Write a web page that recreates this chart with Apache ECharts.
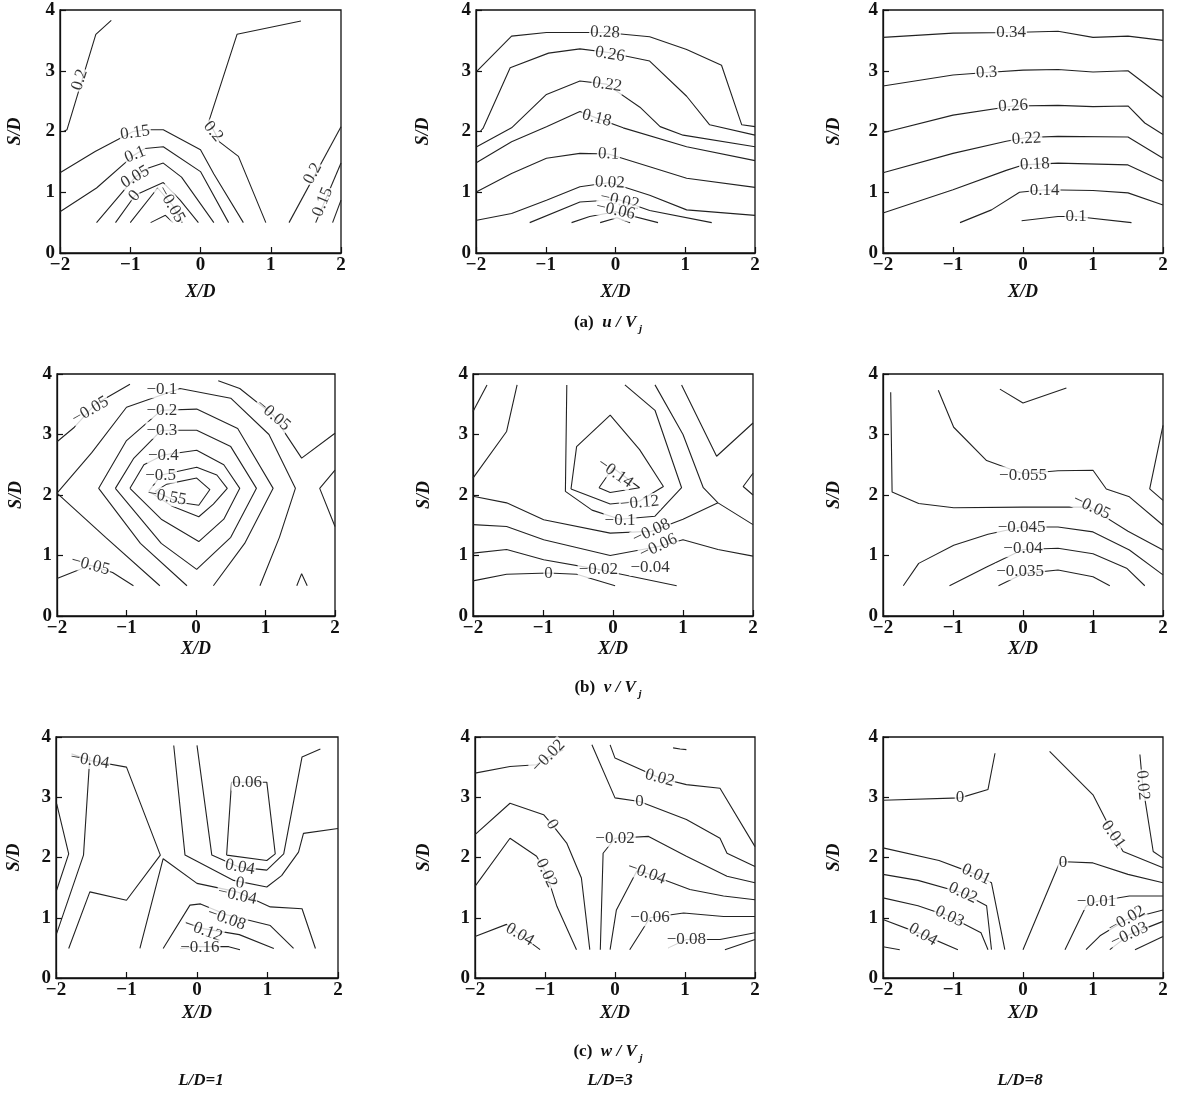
<!DOCTYPE html>
<html>
<head>
<meta charset="utf-8">
<script src="https://cdn.jsdelivr.net/npm/echarts@6/dist/echarts.min.js"></script>
<style>
html, body { margin: 0; padding: 0; background: #fff; }
#app { width: 1180px; height: 1097px; }
</style>
</head>
<body>
<div id="app"></div>
<script>
// contour lines, in X/D and S/D units; labels are [text, x, y, rotate]
var u1Lines = [
    [[-1.95, 2.0], [-1.9, 2.03], [-1.49, 3.6], [-1.27, 3.83]],
    [[1.43, 3.82], [0.52, 3.6], [0.12, 2.17], [0.27, 1.83], [0.54, 1.59], [0.93, 0.5]],
    [[1.26, 0.5], [2.0, 2.08]],
    [[1.64, 0.5], [2.0, 1.48]],
    [[1.88, 0.5], [2.0, 0.87]],
    [[-2, 1.32], [-1.5, 1.67], [-0.96, 2.0], [-0.74, 2.03], [-0.53, 2.03], [0.0, 1.70], [0.19, 1.3], [0.61, 0.5]],
    [[-2, 0.68], [-1.48, 1.07], [-0.96, 1.6], [-0.79, 1.72], [-0.53, 1.75], [0.0, 1.34], [0.4, 0.5]],
    [[-1.48, 0.5], [-0.93, 1.25], [-0.74, 1.4], [-0.53, 1.48], [-0.27, 1.25], [0.19, 0.5]],
    [[-1.21, 0.5], [-0.93, 0.95], [-0.76, 1.04], [-0.53, 1.16], [-0.29, 0.87], [-0.03, 0.5]],
    [[-1.0, 0.5], [-0.61, 1.07], [-0.4, 0.79], [-0.26, 0.5]],
    [[-0.71, 0.5], [-0.5, 0.62], [-0.39, 0.5]]
];
var u1Labels = [
    ['0.2', -1.72, 2.85, 72], ['0.2', 0.18, 2.0, -50], ['0.2', 1.6, 1.31, 62],
    ['0.15', 1.74, 0.84, 68], ['0.15', -0.93, 1.98, 8], ['0.1', -0.93, 1.62, 22],
    ['0.05', -0.93, 1.25, 30], ['0', -0.94, 0.94, 50], ['\u22120.05', -0.42, 0.8, -60]
];

var u3Lines = [
    [[-1.99, 2.99], [-1.49, 3.57], [-0.99, 3.63], [-0.15, 3.63], [0.49, 3.56], [1.02, 3.35], [1.52, 3.09], [1.81, 2.11], [2.0, 2.08]],
    [[-1.94, 2.0], [-1.9, 2.05], [-1.51, 3.05], [-0.96, 3.29], [-0.51, 3.36], [-0.1, 3.3], [0.49, 3.16], [1.02, 2.58], [1.35, 2.11], [2.0, 1.94]],
    [[-1.99, 1.75], [-1.49, 2.06], [-0.99, 2.61], [-0.51, 2.83], [-0.13, 2.78], [0.35, 2.4], [0.64, 2.08], [0.97, 1.94], [2.0, 1.75]],
    [[-1.99, 1.49], [-1.49, 1.83], [-0.99, 2.08], [-0.51, 2.33], [-0.27, 2.22], [0.11, 2.06], [1.02, 1.75], [2.0, 1.52]],
    [[-1.99, 1.01], [-1.49, 1.31], [-0.99, 1.56], [-0.51, 1.64], [-0.1, 1.63], [0.49, 1.42], [1.02, 1.23], [2.0, 1.08]],
    [[-1.99, 0.54], [-1.49, 0.65], [-0.99, 0.87], [-0.51, 1.09], [-0.08, 1.16], [0.49, 0.95], [1.02, 0.71], [2.0, 0.62]],
    [[-1.23, 0.5], [-0.51, 0.84], [0.04, 0.88], [0.49, 0.7], [1.38, 0.5]],
    [[-0.63, 0.5], [-0.37, 0.6], [0.0, 0.68], [0.61, 0.5]],
    [[-0.22, 0.5], [0.02, 0.58], [0.21, 0.5]]
];
var u3Labels = [
    ['0.28', -0.15, 3.63, -2], ['0.26', -0.08, 3.27, -10], ['0.22', -0.12, 2.77, -8],
    ['0.18', -0.27, 2.22, -14], ['0.1', -0.1, 1.63, -3], ['0.02', -0.08, 1.16, -3],
    ['\u22120.02', 0.06, 0.86, -12], ['\u22120.06', 0.0, 0.7, -12]
];

var u8Lines = [
    [[-2, 3.55], [-1.0, 3.62], [-0.17, 3.63], [0.5, 3.65], [1.0, 3.55], [1.5, 3.57], [2.0, 3.5]],
    [[-2, 2.75], [-1.0, 2.93], [-0.52, 2.97], [0.0, 3.01], [0.5, 3.02], [1.0, 2.98], [1.5, 3.0], [2.0, 2.56]],
    [[-2, 1.98], [-1.0, 2.27], [-0.14, 2.42], [0.5, 2.43], [1.0, 2.41], [1.5, 2.42], [1.74, 2.14], [2.0, 1.95]],
    [[-2, 1.32], [-1.0, 1.64], [-0.24, 1.84], [0.05, 1.9], [0.5, 1.92], [1.5, 1.91], [2.0, 1.56]],
    [[-2, 0.66], [-1.0, 1.04], [-0.24, 1.36], [0.0, 1.45], [0.5, 1.48], [1.5, 1.45], [2.0, 1.18]],
    [[-0.9, 0.5], [-0.45, 0.71], [-0.05, 1.0], [0.31, 1.04], [1.0, 1.03], [1.5, 0.99], [2.0, 0.79]],
    [[-0.02, 0.53], [0.0, 0.55], [0.5, 0.6], [0.76, 0.6], [1.55, 0.5]]
];
var u8Labels = [
    ['0.34', -0.17, 3.63, 0], ['0.3', -0.52, 2.97, 3], ['0.26', -0.14, 2.42, 3],
    ['0.22', 0.05, 1.88, 3], ['0.18', 0.17, 1.46, 3], ['0.14', 0.31, 1.03, 0], ['0.1', 0.76, 0.6, 0]
];

var v1Lines = [
    [[-2, 2.88], [-1.75, 3.12], [-1.45, 3.5], [-0.95, 3.83]],
    [[0.32, 3.89], [0.63, 3.76], [1.11, 3.32], [1.52, 2.61], [2.0, 3.02]],
    [[-2, 0.62], [-1.52, 0.84], [-1.2, 0.72], [-0.9, 0.5]],
    [[-0.52, 0.5], [-1.3, 1.3], [-2, 2.03], [-1.5, 2.7], [-1.0, 3.45], [-0.23, 3.76], [0.5, 3.6], [1.05, 3.0], [1.43, 2.11], [1.2, 1.3], [0.92, 0.5]],
    [[-0.13, 0.5], [-0.8, 1.2], [-1.4, 2.11], [-1.0, 2.9], [-0.5, 3.4], [0.01, 3.42], [0.6, 3.1], [1.11, 2.11], [0.7, 1.2], [0.25, 0.5]],
    [[-1.16, 2.11], [-0.9, 2.6], [-0.5, 3.07], [0.01, 3.07], [0.5, 2.8], [0.87, 2.11], [0.5, 1.3], [0.01, 0.77], [-0.5, 1.2], [-1.16, 2.11]],
    [[-0.95, 2.11], [-0.75, 2.5], [-0.47, 2.66], [0.01, 2.74], [0.4, 2.5], [0.63, 2.11], [0.4, 1.6], [0.04, 1.23], [-0.5, 1.6], [-0.95, 2.11]],
    [[-0.68, 2.06], [-0.5, 2.33], [0.01, 2.46], [0.3, 2.33], [0.45, 2.11], [0.25, 1.85], [0.04, 1.64], [-0.35, 1.82], [-0.68, 2.06]],
    [[-0.59, 2.06], [-0.42, 2.18], [0.01, 2.28], [0.2, 2.09], [0.04, 1.83], [-0.25, 1.88], [-0.59, 2.06]],
    [[2, 2.41], [1.78, 2.11], [2, 1.48]],
    [[1.45, 0.5], [1.52, 0.7], [1.6, 0.5]]
];
var v1Labels = [
    ['\u22120.05', -1.52, 3.4, 30], ['\u22120.05', 1.11, 3.32, -40], ['\u22120.05', -1.52, 0.84, -15],
    ['\u22120.1', -0.49, 3.74, 0], ['\u22120.2', -0.49, 3.4, 0], ['\u22120.3', -0.49, 3.07, 0],
    ['\u22120.4', -0.47, 2.66, 0], ['\u22120.5', -0.51, 2.33, 0], ['\u22120.55', -0.42, 1.97, -10]
];

var v3Lines = [
    [[-2, 3.38], [-1.8, 3.82]],
    [[-2, 2.28], [-1.52, 3.05], [-1.37, 3.82]],
    [[-0.2, 2.12], [-0.04, 2.04], [0.38, 2.12], [0.0, 2.45], [-0.2, 2.12]],
    [[-0.6, 2.1], [-0.52, 2.8], [-0.04, 3.32], [0.38, 2.75], [0.72, 2.14], [0.38, 1.9], [-0.04, 1.85], [-0.6, 2.1]],
    [[-0.66, 3.82], [-0.68, 2.06], [-0.3, 1.75], [0.1, 1.6], [0.6, 1.65], [0.98, 2.12], [0.6, 3.4], [0.17, 3.82]],
    [[0.6, 3.82], [1.0, 3.0], [1.29, 2.12], [1.5, 1.87], [2.0, 1.51]],
    [[-2, 1.98], [-1.52, 1.87], [-0.99, 1.59], [-0.04, 1.37], [0.55, 1.4], [1.0, 1.6], [1.5, 1.87]],
    [[-2, 1.51], [-1.52, 1.48], [-0.99, 1.26], [-0.04, 1.0], [0.65, 1.15], [1.0, 1.26], [1.5, 1.1], [2.0, 0.99]],
    [[-2, 1.04], [-1.52, 1.1], [-0.99, 0.93], [-0.21, 0.77], [0.91, 0.5]],
    [[-2, 0.58], [-1.52, 0.69], [-0.92, 0.71], [-0.52, 0.69], [0.03, 0.5]],
    [[2, 3.19], [1.48, 2.64], [0.98, 3.82]],
    [[2, 2.36], [1.86, 2.14], [2, 2.0]]
];
var v3Labels = [
    ['\u22120.14', 0.03, 2.36, -35], ['\u22120.12', 0.38, 1.87, 5], ['\u22120.1', 0.1, 1.57, 0],
    ['\u22120.08', 0.55, 1.4, 25], ['\u22120.06', 0.65, 1.15, 25], ['\u22120.04', 0.53, 0.8, 0],
    ['\u22120.02', -0.21, 0.77, 0], ['0', -0.92, 0.71, 0]
];

var v8Lines = [
    [[-1.21, 3.73], [-0.99, 3.12], [-0.52, 2.57], [0.0, 2.35], [0.5, 2.4], [1.0, 2.41], [1.19, 2.1], [1.52, 1.97], [2.0, 1.5]],
    [[-1.89, 3.7], [-1.87, 2.05], [-1.49, 1.86], [-0.99, 1.79], [0.0, 1.8], [0.6, 1.8], [0.95, 1.8], [1.5, 1.4], [2.0, 1.09]],
    [[-1.71, 0.5], [-1.49, 0.87], [-0.99, 1.17], [-0.5, 1.35], [-0.02, 1.47], [0.5, 1.47], [1.0, 1.39], [1.52, 1.09], [2.0, 0.68]],
    [[-1.05, 0.5], [-0.52, 0.81], [0.0, 1.1], [0.5, 1.12], [1.0, 1.03], [1.48, 0.79], [1.74, 0.5]],
    [[-0.35, 0.5], [0.0, 0.7], [0.5, 0.76], [1.0, 0.65], [1.24, 0.5]],
    [[-0.33, 3.75], [0, 3.52], [0.62, 3.77]],
    [[2, 3.15], [1.81, 2.1], [2, 1.91]]
];
var v8Labels = [
    ['\u22120.055', 0.0, 2.33, 0], ['\u22120.05', 0.98, 1.8, -25], ['\u22120.045', -0.02, 1.47, 0],
    ['\u22120.04', 0.0, 1.11, 0], ['\u22120.035', -0.04, 0.73, 0]
];

var w1Lines = [
    [[-1.78, 3.72], [-1.52, 3.61], [-1.0, 3.5], [-0.52, 2.04], [-1.0, 1.29], [-1.52, 1.43], [-1.82, 0.49]],
    [[-1.99, 2.89], [-1.82, 2.06], [-1.99, 1.46]],
    [[-1.99, 0.74], [-1.61, 2.04], [-1.52, 3.67]],
    [[-0.81, 0.49], [-0.48, 1.98], [0.0, 1.57], [0.57, 1.43], [1.04, 1.18], [1.49, 1.15], [1.68, 0.49]],
    [[-0.33, 3.86], [-0.17, 2.04], [0.52, 1.62], [0.99, 1.51], [1.2, 1.7], [1.44, 2.09], [1.51, 2.4], [2, 2.48]],
    [[0.0, 3.86], [0.21, 2.04], [0.6, 1.84], [0.99, 1.79], [1.23, 2.06], [1.49, 3.67], [1.75, 3.8]],
    [[0.42, 2.04], [0.49, 3.25], [0.99, 3.25], [1.11, 2.06], [0.99, 1.95], [0.42, 2.04]],
    [[-0.48, 0.49], [-0.1, 1.21], [0.05, 1.23], [0.42, 1.05], [1.04, 0.87], [1.37, 0.49]],
    [[-0.17, 0.93], [0.09, 0.82], [0.6, 0.72], [1.09, 0.49]],
    [[-0.24, 0.49], [0.04, 0.52], [0.45, 0.52], [0.61, 0.47]]
];
var w1Labels = [
    ['\u22120.04', -1.52, 3.61, -10], ['0.06', 0.71, 3.25, 0], ['0.04', 0.61, 1.84, -10],
    ['0', 0.61, 1.57, -10], ['\u22120.04', 0.57, 1.37, -12], ['\u22120.08', 0.42, 0.98, -20],
    ['\u22120.12', 0.09, 0.79, -20], ['\u22120.16', 0.04, 0.5, 0]
];

var w3Lines = [
    [[-2, 3.4], [-1.5, 3.51], [-1.12, 3.54], [-0.98, 3.65], [-0.74, 3.79]],
    [[-2, 2.38], [-1.5, 2.9], [-1.02, 2.71], [-0.9, 2.55], [-0.69, 2.24], [-0.48, 1.66], [-0.36, 0.47]],
    [[-2, 1.52], [-1.5, 2.32], [-1.12, 2.02], [-0.98, 1.74], [-0.83, 1.19], [-0.55, 0.47]],
    [[-2, 0.69], [-1.55, 0.89], [-1.36, 0.72], [-1.07, 0.47]],
    [[-0.33, 3.87], [0, 2.99], [0.35, 2.93], [1.02, 2.63], [1.5, 2.32], [1.6, 2.07], [2, 1.85]],
    [[-0.07, 3.87], [0, 3.65], [0.64, 3.32], [1.02, 3.21], [1.5, 3.15], [2, 2.18]],
    [[-0.21, 0.47], [-0.17, 2.07], [0, 2.32], [0.48, 2.35], [1.02, 2.02], [1.6, 1.69], [2, 1.58]],
    [[-0.07, 0.47], [0.02, 1.13], [0.31, 1.77], [0.45, 1.74], [1.07, 1.47], [1.55, 1.36], [2, 1.3]],
    [[0.21, 0.47], [0.45, 0.91], [0.5, 1.0], [0.98, 1.08], [1.55, 1.02], [2, 1.02]],
    [[0.76, 0.5], [1.02, 0.64], [1.5, 0.64], [2, 0.75]],
    [[1.57, 0.47], [2, 0.64]],
    [[0.83, 3.82], [0.93, 3.8], [1.02, 3.79]]
];
var w3Labels = [
    ['\u22120.02', -0.95, 3.68, 45], ['0', -0.9, 2.55, -60], ['0.02', -0.98, 1.74, -65],
    ['0.04', -1.36, 0.72, -30], ['0', 0.35, 2.93, 0], ['0.02', 0.64, 3.32, -15],
    ['\u22120.02', 0.0, 2.32, 0], ['\u22120.04', 0.45, 1.74, -20], ['\u22120.06', 0.5, 1.0, 0],
    ['\u22120.08', 1.02, 0.64, 0]
];

var w8Lines = [
    [[-2, 2.95], [-0.9, 2.99], [-0.5, 3.13], [-0.4, 3.73]],
    [[-2, 2.16], [-1.2, 1.95], [-0.67, 1.72], [-0.45, 1.58], [-0.26, 0.47]],
    [[-2, 1.72], [-1.5, 1.62], [-0.86, 1.41], [-0.52, 1.2], [-0.45, 0.47]],
    [[-2, 1.33], [-1.5, 1.2], [-1.05, 1.02], [-0.6, 0.75], [-0.5, 0.47]],
    [[-2, 0.97], [-1.43, 0.72], [-0.93, 0.47]],
    [[-2, 0.52], [-1.76, 0.47]],
    [[0.0, 0.47], [0.52, 1.91], [0.6, 1.93], [1.0, 1.91], [1.5, 1.72], [2, 1.58]],
    [[0.38, 3.76], [1.0, 3.04], [1.29, 2.38], [1.43, 2.1], [2, 1.83]],
    [[1.67, 3.71], [1.71, 3.2], [1.86, 2.1], [2, 1.99]],
    [[0.6, 0.47], [0.9, 1.19], [1.05, 1.27], [1.52, 1.36], [2, 1.36]],
    [[0.9, 0.47], [1.1, 0.7], [1.48, 0.97], [2, 1.13]],
    [[1.24, 0.47], [1.52, 0.72], [2, 0.94]],
    [[1.6, 0.47], [2, 0.69]]
];
var w8Labels = [
    ['0', -0.9, 2.99, 0], ['0.01', -0.67, 1.72, -25], ['0.02', -0.86, 1.41, -25],
    ['0.03', -1.05, 1.02, -25], ['0.04', -1.43, 0.72, -30], ['0', 0.57, 1.91, 0],
    ['0.01', 1.29, 2.38, -55], ['0.02', 1.71, 3.2, -85], ['\u22120.01', 1.05, 1.27, 0],
    ['\u22120.02', 1.48, 0.97, 30], ['\u22120.03', 1.52, 0.72, 25]
];

var panels = [
    { lines: u1Lines, labels: u1Labels, left: 60, top: 10, width: 281, height: 243, xGap: 30, yGap: 36 },
    { lines: u3Lines, labels: u3Labels, left: 476, top: 10, width: 279, height: 243, xGap: 30, yGap: 44 },
    { lines: u8Lines, labels: u8Labels, left: 883, top: 10, width: 280, height: 243, xGap: 30, yGap: 40 },
    { lines: v1Lines, labels: v1Labels, left: 57, top: 374, width: 278, height: 242, xGap: 24, yGap: 32 },
    { lines: v3Lines, labels: v3Labels, left: 473, top: 374, width: 280, height: 242, xGap: 24, yGap: 40 },
    { lines: v8Lines, labels: v8Labels, left: 883, top: 374, width: 280, height: 242, xGap: 24, yGap: 40 },
    { lines: w1Lines, labels: w1Labels, left: 56, top: 737, width: 282, height: 241, xGap: 26, yGap: 33 },
    { lines: w3Lines, labels: w3Labels, left: 475, top: 737, width: 280, height: 241, xGap: 26, yGap: 42 },
    { lines: w8Lines, labels: w8Labels, left: 883, top: 737, width: 280, height: 241, xGap: 26, yGap: 40 }
];

var serif = 'Liberation Serif';
var ink = '#111';

function tickText(v) {
    return v < 0 ? '\u2212' + (-v) : '' + v;
}

var grids = [], xAxes = [], yAxes = [], series = [];
panels.forEach(function (p, i) {
    grids.push({
        left: p.left, top: p.top, width: p.width, height: p.height,
        show: true, borderColor: ink, borderWidth: 1.3, backgroundColor: 'transparent',
        outerBoundsMode: 'none'
    });
    xAxes.push({
        gridIndex: i, type: 'value', min: -2, max: 2, interval: 1,
        axisLine: { show: true, onZero: false, lineStyle: { color: ink, width: 1.3 } },
        axisTick: { inside: true, length: 6, lineStyle: { color: ink, width: 1.2 } },
        splitLine: { show: false },
        axisLabel: { formatter: tickText, fontFamily: serif, fontWeight: 'bold', fontSize: 19, color: ink, margin: 3 },
        name: 'X/D', nameLocation: 'middle', nameGap: p.xGap,
        nameTextStyle: { fontFamily: serif, fontStyle: 'italic', fontWeight: 'bold', fontSize: 18, color: ink }
    });
    yAxes.push({
        gridIndex: i, type: 'value', min: 0, max: 4, interval: 1,
        axisLine: { show: true, onZero: false, lineStyle: { color: ink, width: 1.3 } },
        axisTick: { inside: true, length: 6, lineStyle: { color: ink, width: 1.2 } },
        splitLine: { show: false },
        axisLabel: { formatter: tickText, fontFamily: serif, fontWeight: 'bold', fontSize: 19, color: ink, margin: 5 },
        name: 'S/D', nameLocation: 'middle', nameGap: p.yGap, nameRotate: 90,
        nameTextStyle: { fontFamily: serif, fontStyle: 'italic', fontWeight: 'bold', fontSize: 18, color: ink }
    });
    p.lines.forEach(function (pts) {
        series.push({
            type: 'line', xAxisIndex: i, yAxisIndex: i, data: pts,
            symbol: 'none', silent: true, z: 2,
            lineStyle: { color: '#222', width: 1.1 }
        });
    });
    series.push({
        type: 'scatter', xAxisIndex: i, yAxisIndex: i, symbolSize: 0, silent: true, z: 5,
        data: p.labels.map(function (l) {
            return { name: l[0], value: [l[1], l[2]], label: { rotate: l[3] } };
        }),
        label: {
            show: true, position: 'inside', formatter: '{b}',
            fontFamily: serif, fontSize: 17, color: '#000',
            backgroundColor: '#fff', padding: [0, 1]
        }
    });
});

var capRich = {
    b: { fontFamily: serif, fontWeight: 'bold', fontSize: 17, color: ink, lineHeight: 24 },
    i: { fontFamily: serif, fontWeight: 'bold', fontStyle: 'italic', fontSize: 17, color: ink, lineHeight: 24 },
    s: { fontFamily: serif, fontStyle: 'italic', fontSize: 11, color: ink, lineHeight: 24, verticalAlign: 'bottom' }
};
function caption(text, y) {
    return { text: text, left: 608, top: y, textAlign: 'center', padding: 0, textStyle: { rich: capRich } };
}
function ldTitle(text, x) {
    return {
        text: text, left: x, top: 1072, textAlign: 'center', padding: 0,
        textStyle: { fontFamily: serif, fontStyle: 'italic', fontWeight: 'bold', fontSize: 17, color: ink }
    };
}

var option = {
    backgroundColor: '#fff',
    animation: false,
    title: [
        caption('{b|(a)  }{i|u / V}{s| j}', 311),
        caption('{b|(b)  }{i|v / V}{s| j}', 676),
        caption('{b|(c)  }{i|w / V}{s| j}', 1040),
        ldTitle('L/D=1', 201),
        ldTitle('L/D=3', 610),
        ldTitle('L/D=8', 1020)
    ],
    grid: grids,
    xAxis: xAxes,
    yAxis: yAxes,
    series: series
};

var myChart = echarts.init(document.getElementById('app'));
myChart.setOption(option);
</script>
</body>
</html>
